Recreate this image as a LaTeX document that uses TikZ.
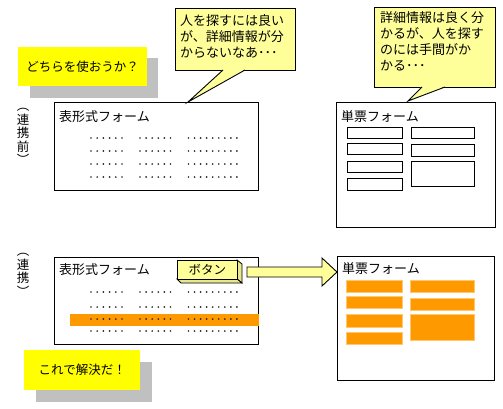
\documentclass[tikz,border=0pt]{standalone}
\usepackage{fontspec}
\setmainfont{Noto Sans CJK JP}
\usetikzlibrary{calc}
\definecolor{noteyellow}{HTML}{FFFF00}
\definecolor{callfill}{HTML}{FFFF99}
\definecolor{shadowgray}{HTML}{C0C0C0}
\definecolor{orng}{HTML}{FF9900}
\definecolor{orngedge}{HTML}{FFC870}
\definecolor{bevelcol}{HTML}{E8E890}
\begin{document}
\begin{tikzpicture}[x=1pt,y=-1pt,
  formbox/.style={draw=black,line width=1pt,fill=white,anchor=north west,inner sep=0pt},
  fieldbox/.style={draw=black,line width=0.9pt,fill=white,anchor=north west,inner sep=0pt},
  orangebox/.style={draw=orngedge,line width=0.8pt,fill=orng,anchor=north west,inner sep=0pt},
  shadowbox/.style={fill=shadowgray,anchor=north west,inner sep=0pt},
  notebox/.style={fill=noteyellow,anchor=north west,inner sep=0pt,font=\fontsize{12.5}{15}\selectfont},
  callbox/.style={draw=black,line width=0.9pt,fill=callfill,anchor=north west,inner sep=0pt},
  calltext/.style={anchor=north west,inner sep=0pt,align=left,font=\fontsize{13}{16}\selectfont},
  titletext/.style={anchor=west,inner sep=0pt,font=\fontsize{13}{15}\selectfont},
  verttext/.style={anchor=north,inner sep=0pt,align=center,font=\fontsize{12.5}{13.5}\selectfont},
  dot/.style={fill=black!85}
]
\useasboundingbox (0,0) rectangle (503,408);

% ---------- upper part (before) ----------
\node[shadowbox,minimum width=128pt,minimum height=40pt] (n1s) at (30,58) {};
\node[notebox,minimum width=129pt,minimum height=39pt] (n1) at (18,47) {どちらを使おうか？};

\node[verttext] (v1) at (23,108) {︵\\連\\携\\前\\︶};

% table form (before)
\node[formbox,minimum width=204pt,minimum height=88pt] (f1) at (54,102) {};
\node[titletext] (f1t) at (59,117) {表形式フォーム};
\foreach \yy in {138,151,164,177}{
  \foreach \i in {0,...,5}{\fill[dot] ($(91,\yy)+(6.2*\i,0)$) circle (0.95pt);}
  \foreach \i in {0,...,5}{\fill[dot] ($(140,\yy)+(6.1*\i,0)$) circle (0.95pt);}
  \foreach \i in {0,...,8}{\fill[dot] ($(188.5,\yy)+(6.05*\i,0)$) circle (0.95pt);}
}

% callout 1
\node[callbox,minimum width=120pt,minimum height=62pt] (c1) at (175,8) {};
\coordinate (c1a) at (223,70);
\coordinate (c1b) at (245,70);
\coordinate (c1tip) at (188,102);
\fill[callfill] ($(c1a)+(0,-0.6)$) -- (c1tip) -- ($(c1b)+(0,-0.6)$) -- cycle;
\draw[line width=0.9pt] (c1a) -- (c1tip) -- (c1b);
\node[calltext] (c1t) at (180,14) {人を探すには良い\\が、詳細情報が分\\からないなあ･･･};

% single form (before)
\node[formbox,minimum width=159pt,minimum height=125pt] (f2) at (336,102) {};
\node[titletext] (f2t) at (341,117) {単票フォーム};
\node[fieldbox,minimum width=55pt,minimum height=11pt] (f2a) at (347,127) {};
\node[fieldbox,minimum width=55pt,minimum height=11pt] (f2b) at (347,143) {};
\node[fieldbox,minimum width=55pt,minimum height=11pt] (f2c) at (347,161) {};
\node[fieldbox,minimum width=55pt,minimum height=12pt] (f2d) at (347,178) {};
\node[fieldbox,minimum width=63pt,minimum height=11pt] (f2e) at (411,127) {};
\node[fieldbox,minimum width=63pt,minimum height=12pt] (f2f) at (411,144) {};
\node[fieldbox,minimum width=63pt,minimum height=25pt] (f2g) at (411,161) {};

% callout 2
\node[callbox,minimum width=121pt,minimum height=80pt] (c2) at (374,7) {};
\coordinate (c2a) at (422,87);
\coordinate (c2b) at (445,87);
\coordinate (c2tip) at (408,101);
\fill[callfill] ($(c2a)+(0,-0.6)$) -- (c2tip) -- ($(c2b)+(0,-0.6)$) -- cycle;
\draw[line width=0.9pt] (c2a) -- (c2tip) -- (c2b);
\node[calltext] (c2t) at (380,11) {詳細情報は良く分\\かるが、人を探す\\のには手間がか\\かる･･･};

% ---------- lower part (linked) ----------
\node[verttext] (v2) at (23,253) {︵\\連\\携\\︶};

\node[formbox,minimum width=204pt,minimum height=87pt] (f3) at (54,257) {};
\node[titletext] (f3t) at (59,270) {表形式フォーム};
\fill[orng] (70,314) rectangle (258.5,326);
\foreach \yy in {292,307,319,331}{
  \foreach \i in {0,...,5}{\fill[dot] ($(91,\yy)+(6.2*\i,0)$) circle (0.95pt);}
  \foreach \i in {0,...,5}{\fill[dot] ($(140,\yy)+(6.1*\i,0)$) circle (0.95pt);}
  \foreach \i in {0,...,8}{\fill[dot] ($(188.5,\yy)+(6.05*\i,0)$) circle (0.95pt);}
}

% button with bevel
\filldraw[fill=bevelcol,draw=black,line width=0.8pt] (237,260) -- (242,264) -- (242,283) -- (237,279) -- cycle;
\filldraw[fill=bevelcol,draw=black,line width=0.8pt] (177,279) -- (237,279) -- (242,283) -- (181,283) -- cycle;
\node[draw=black,line width=0.9pt,fill=callfill,anchor=north west,inner sep=0pt,minimum width=60pt,minimum height=19pt,font=\fontsize{12.5}{14}\selectfont] (btn) at (177,260) {ボタン};

% block arrow
\node[formbox,minimum width=157pt,minimum height=124pt] (f4) at (337,256) {};
\coordinate (aS) at (247,272);
\coordinate (aE) at (f4.west |- aS);
\filldraw[fill=callfill,draw=black,line width=0.9pt,line join=miter]
  ($(aS)+(0,-5)$) -- ($(aE)+(-15,-5)$) -- ($(aE)+(-15,-14)$) -- (aE)
  -- ($(aE)+(-15,14)$) -- ($(aE)+(-15,5)$) -- ($(aS)+(0,5)$) -- cycle;

\node[titletext] (f4t) at (342,269) {単票フォーム};
\node[orangebox,minimum width=56pt,minimum height=12pt] (f4a) at (346,280) {};
\node[orangebox,minimum width=56pt,minimum height=12pt] (f4b) at (346,296) {};
\node[orangebox,minimum width=56pt,minimum height=13pt] (f4c) at (346,314) {};
\node[orangebox,minimum width=56pt,minimum height=12pt] (f4d) at (346,332) {};
\node[orangebox,minimum width=64pt,minimum height=12pt] (f4e) at (410,280) {};
\node[orangebox,minimum width=64pt,minimum height=12pt] (f4f) at (410,298) {};
\node[orangebox,minimum width=64pt,minimum height=26pt] (f4g) at (410,314) {};

% note 2
\node[shadowbox,minimum width=116pt,minimum height=40pt] (n2s) at (36,362) {};
\node[notebox,minimum width=116pt,minimum height=40pt] (n2) at (24,350) {これで解決だ！};
\end{tikzpicture}
\end{document}
